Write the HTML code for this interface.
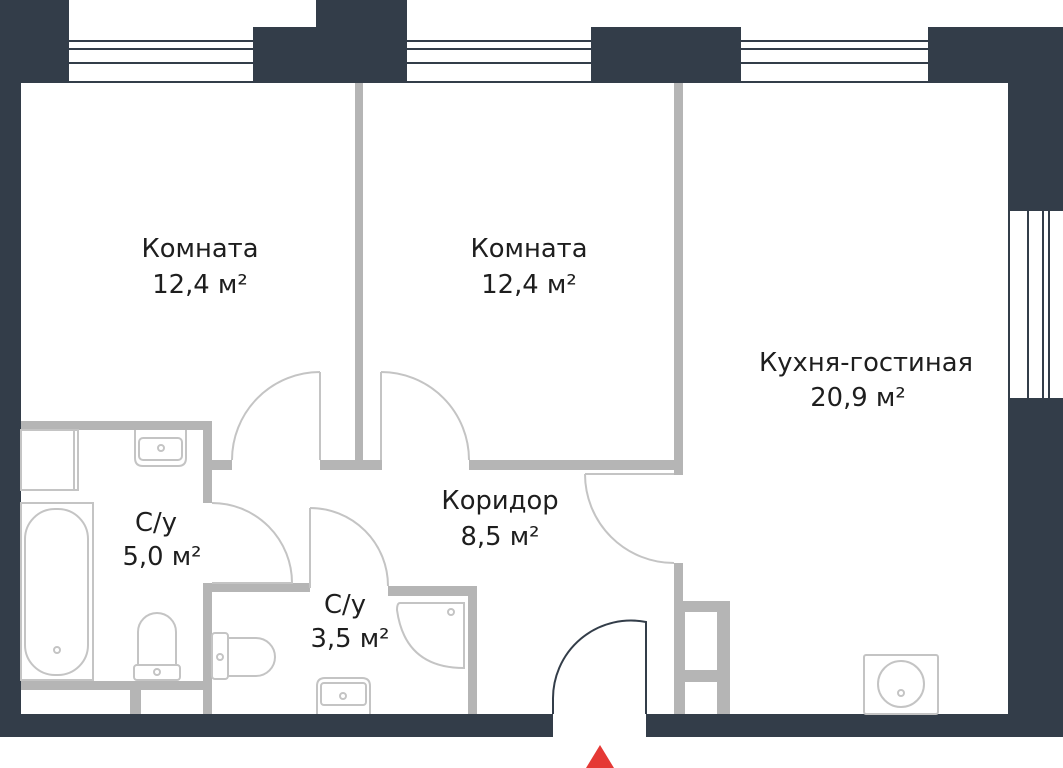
<!DOCTYPE html>
<html><head><meta charset="utf-8"><style>
html,body{margin:0;padding:0;background:#fff;}
svg{display:block;}
text{font-family:"DejaVu Sans","Liberation Sans",sans-serif;font-size:25.8px;fill:#1e1e1e;text-anchor:middle;}
</style></head><body>
<svg width="1063" height="768" viewBox="0 0 1063 768" xmlns="http://www.w3.org/2000/svg">
<g fill="#333d49">
<rect x="0" y="0" width="69" height="83"/>
<rect x="0" y="83" width="21" height="654"/>
<rect x="253" y="27" width="63" height="56"/>
<rect x="316" y="0" width="91" height="83"/>
<rect x="591" y="27" width="150" height="56"/>
<rect x="928" y="27" width="135" height="56"/>
<rect x="1008" y="83" width="55" height="128"/>
<rect x="1008" y="398" width="55" height="339"/>
<rect x="0" y="714" width="553" height="23"/>
<rect x="646" y="714" width="417" height="23"/>
</g>
<g stroke="#333d49" stroke-width="2">
<path d="M69 41H253M69 49H253M69 63H253M69 82H253"/>
<path d="M407 41H591M407 49H591M407 63H591M407 82H591"/>
<path d="M741 41H928M741 49H928M741 63H928M741 82H928"/>
<path d="M1009 211V398M1028 211V398M1043 211V398M1049 211V398"/>
</g>
<g fill="#b5b5b5">
<rect x="355" y="83" width="8" height="387"/>
<rect x="674" y="83" width="9" height="392"/>
<rect x="212" y="460" width="20" height="10"/>
<rect x="320" y="460" width="62" height="10"/>
<rect x="469" y="460" width="214" height="10"/>
<rect x="21" y="421" width="191" height="9"/>
<rect x="203" y="421" width="9" height="82"/>
<rect x="203" y="583" width="9" height="131"/>
<rect x="212" y="583" width="98" height="9"/>
<rect x="388" y="586" width="89" height="10"/>
<rect x="468" y="586" width="9" height="128"/>
<rect x="21" y="681" width="191" height="9"/>
<rect x="130" y="690" width="11" height="24"/>
<rect x="674" y="563" width="9" height="151"/>
<rect x="683" y="601" width="47" height="113"/>
</g>
<g fill="#fff"><rect x="685" y="612" width="32" height="58"/><rect x="685" y="682" width="32" height="32"/></g>
<g fill="none" stroke="#c4c4c4" stroke-width="2">
<path d="M320 372V460M320 372A88 88 0 0 0 232 460"/>
<path d="M381 372V460M381 372A88 88 0 0 1 469 460"/>
<path d="M212 503A80 80 0 0 1 292 583H212"/>
<path d="M310 508V588M310 508A78 78 0 0 1 388 586"/>
<path d="M585 474H674M585 474A89 89 0 0 0 674 563"/>
<rect x="21" y="430" width="57" height="60"/><path d="M74 430V490"/>
<rect x="21" y="503" width="72" height="177"/>
<rect x="25" y="509" width="63" height="166" rx="30"/>
<circle cx="57" cy="650" r="3"/>
<path d="M135 430V458Q135 466 143 466H178Q186 466 186 458V430"/>
<rect x="139" y="438" width="43" height="22" rx="4"/><circle cx="161" cy="448" r="3"/>
<path d="M138 665V632A19 19 0 0 1 176 632V665"/>
<rect x="134" y="665" width="46" height="15" rx="3"/><circle cx="157" cy="672" r="3"/>
<rect x="212" y="633" width="16" height="46" rx="3"/>
<path d="M228 638H256A19 19 0 0 1 256 676H228"/><circle cx="220" cy="657" r="3"/>
<path d="M400 603H464V668Q405 668 397 610Q397 603 400 603Z"/><circle cx="451" cy="612" r="3"/>
<path d="M317 714V686Q317 678 325 678H362Q370 678 370 686V714"/>
<rect x="321" y="683" width="45" height="22" rx="3"/><circle cx="343" cy="696" r="3"/>
<rect x="864" y="655" width="74" height="59" rx="2"/>
<circle cx="901" cy="684" r="23"/><circle cx="901" cy="693" r="3"/>
</g>
<path d="M553 714V700A78 78 0 0 1 646 622V714" fill="none" stroke="#333d49" stroke-width="2"/>
<polygon points="600,745 586,768 614,768" fill="#e53935"/>
<text x="200" y="257">Комната</text><text x="200" y="293">12,4 м²</text>
<text x="529" y="257">Комната</text><text x="529" y="293">12,4 м²</text>
<text x="866" y="371">Кухня-гостиная</text><text x="858" y="406">20,9 м²</text>
<text x="500" y="509">Коридор</text><text x="500" y="545">8,5 м²</text>
<text x="156" y="531">С/у</text><text x="162" y="565">5,0 м²</text>
<text x="345" y="613">С/у</text><text x="350" y="647">3,5 м²</text>
</svg>
</body></html>
